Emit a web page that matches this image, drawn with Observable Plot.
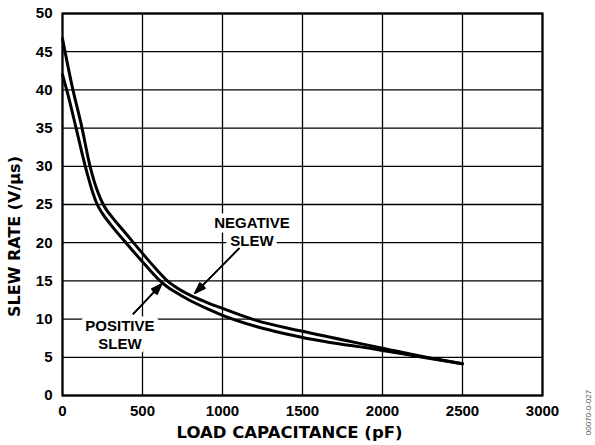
<!DOCTYPE html>
<html><head><meta charset="utf-8">
<script src="https://cdn.jsdelivr.net/npm/d3@7"></script>
<script src="https://cdn.jsdelivr.net/npm/@observablehq/plot@0.6"></script>
<style>
body{margin:0;background:#fff;}
</style>
</head><body><div id="chart"></div>
<script>
// tick values
const xTicks = [0, 500, 1000, 1500, 2000, 2500, 3000];
const yTicks = [0, 5, 10, 15, 20, 25, 30, 35, 40, 45, 50];

// NEGATIVE SLEW (upper curve)
const negCap  = [0, 60, 120, 170, 200, 225, 250, 275, 300, 400, 500, 600, 650, 700, 800, 900, 1000, 1200, 1500, 2000, 2250, 2500];
const negRate = [46.7, 40.5, 35.2, 30.2, 27.9, 26.4, 25.2, 24.3, 23.6, 21.1, 18.6, 16.2, 15.1, 14.3, 13.1, 12.2, 11.4, 9.9, 8.4, 6.2, 5.1, 4.15];

// POSITIVE SLEW (lower curve)
const posCap  = [0, 30, 85, 140, 170, 190, 215, 250, 300, 400, 500, 600, 650, 700, 800, 900, 1000, 1200, 1500, 2000, 2250, 2500];
const posRate = [42.0, 39.7, 35.0, 30.2, 27.9, 26.5, 25.1, 23.8, 22.4, 19.9, 17.5, 15.2, 14.3, 13.6, 12.4, 11.4, 10.5, 9.1, 7.6, 5.9, 5.0, 4.15];

// annotations
const labelText = ["NEGATIVE\nSLEW", "POSITIVE\nSLEW"];
const labelX = [1184, 359];
const labelY = [21.5, 8.05];
const arrowX1 = [1103, 443];
const arrowY1 = [19.24, 10.7];
const arrowX2 = [828, 620];
const arrowY2 = [13.4, 14.6];

const xTitle = "LOAD CAPACITANCE (pF)";
const yTitle = "SLEW RATE (V/μs)";
const figId = "00070-0-027";

const neg = negCap.map((c, i) => ({c, r: negRate[i]}));
const pos = posCap.map((c, i) => ({c, r: posRate[i]}));
const labels = labelText.map((t, i) => ({t, x: labelX[i], y: labelY[i]}));
const arrows = arrowX1.map((x1, i) => ({x1, y1: arrowY1[i], x2: arrowX2[i], y2: arrowY2[i]}));

const headAngles = [40, 30, 20, 10];

const chart = Plot.plot({
  width: 595,
  height: 445,
  marginLeft: 62,
  marginRight: 53,
  marginTop: 13,
  marginBottom: 50,
  style: {background: "#fff", color: "#000", fontFamily: "'Liberation Sans', Arial, sans-serif", fontWeight: "bold"},
  x: {domain: [0, 3000]},
  y: {domain: [0, 50]},
  marks: [
    Plot.gridX(xTicks, {stroke: "#000", strokeOpacity: 1, strokeWidth: 1.3}),
    Plot.gridY(yTicks, {stroke: "#000", strokeOpacity: 1, strokeWidth: 1.3}),
    Plot.axisX(xTicks, {tickSize: 0, tickPadding: 10, fontSize: 15, fontWeight: "bold", tickFormat: d => `${d}`, label: null}),
    Plot.axisY(yTicks, {tickSize: 0, tickPadding: 10, fontSize: 15, fontWeight: "bold", tickFormat: d => `${d}`, label: null}),
    Plot.text(labels, {x: "x", y: "y", text: "t", fontSize: 15, fontWeight: "bold", lineHeight: 1.2,
      fill: "#000", stroke: "#fff", strokeWidth: 9}),
    Plot.line(neg, {x: "c", y: "r", curve: "monotone-x", stroke: "#000", strokeWidth: 3}),
    Plot.line(pos, {x: "c", y: "r", curve: "monotone-x", stroke: "#000", strokeWidth: 3}),
    ...headAngles.map(a => Plot.arrow(arrows, {x1: "x1", y1: "y1", x2: "x2", y2: "y2",
      headLength: 12, headAngle: a, stroke: "#000", strokeWidth: 1.4})),
    Plot.frame({stroke: "#000", strokeWidth: 2.2}),
    Plot.text([xTitle], {frameAnchor: "bottom", dy: 37, dx: -13, text: d => d, lineAnchor: "middle",
      fontSize: 16.5, fontWeight: "bold", fontFamily: "DejaVu Sans", fill: "#000"}),
    Plot.text([yTitle], {frameAnchor: "left", dx: -47.5, dy: 32, rotate: -90, text: d => d, lineAnchor: "middle",
      textAnchor: "middle", fontSize: 16, fontWeight: "bold", fontFamily: "DejaVu Sans", fill: "#000"}),
    Plot.text([figId], {frameAnchor: "bottom-right", dx: 46, dy: 17, rotate: -90, text: d => d,
      lineAnchor: "middle", textAnchor: "middle", fontSize: 8, fontWeight: "normal", fill: "#555"})
  ]
});
document.getElementById("chart").appendChild(chart);
</script>
</body></html>
